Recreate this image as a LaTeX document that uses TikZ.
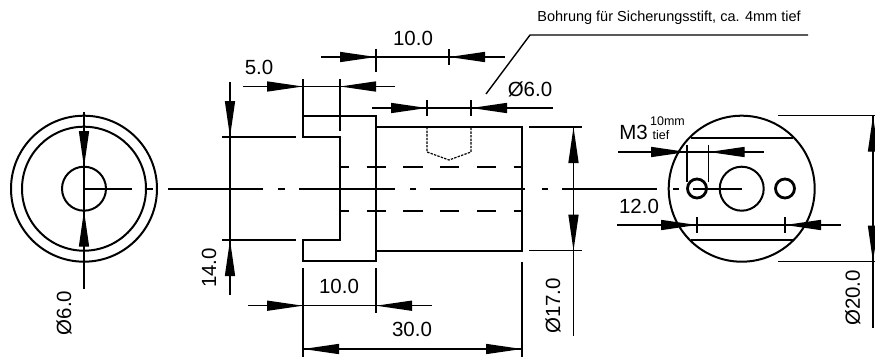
\documentclass[tikz,border=0pt]{standalone}
\usepackage{fontspec}
\setmainfont{Liberation Sans}
\usetikzlibrary{arrows.meta}

\tikzset{
    thinline/.style={line width=1.4pt},
    outline/.style={line width=2pt},
    axisline/.style={line width=1.8pt},
    hiddenline/.style={line width=1.8pt, dash pattern=on 19.3 off 17.4, dash phase=10},
    pinline/.style={line width=1.2pt, dash pattern=on 2.4 off 1.2},
    dimhead/.style={line width=1.4pt, -{Triangle[length=36pt,width=10pt]}},
    dimtext/.style={font=\fontsize{20.5}{24}\selectfont, inner sep=0pt},
}

\begin{document}
\begin{tikzpicture}[x=1pt,y=-1pt]
    \useasboundingbox (0,0) rectangle (875,361);

    \coordinate (cl) at (84,188.7);
    \coordinate (cr) at (741.7,188.7);
    \coordinate (hl) at (697,188.5);
    \coordinate (hr) at (785,188.5);

    % left view
    \draw[outline] (cl) circle (73);
    \draw[outline] (cl) circle (62);
    \draw[outline] (cl) circle (22);

    % right view
    \draw[outline] (cr) circle (73);
    \draw[outline] (cr) circle (22);
    \draw[line width=2.8pt] (hl) circle (9.5);
    \draw[line width=2.8pt] (hr) circle (9.5);
    \draw[outline] (691,137.7) -- (793,137.7);
    \draw[outline] (691,240) -- (793,240);

    % side view
    \draw[outline] (303,115.5) -- (376,115.5) -- (376,261) -- (303,261)
        -- (303,240) -- (340,240) -- (340,137) -- (303,137) -- cycle;
    \draw[outline] (376,127) -- (522,127) -- (522,250.7) -- (376,250.7);
    \draw[hiddenline] (340,166.7) -- (522,166.7);
    \draw[hiddenline] (340,210.7) -- (522,210.7);
    \draw[pinline] (427,127) -- (427,152) -- (449,160) -- (471,152) -- (471,127);

    % centre line
    \foreach \a/\b in {84/132,147/153,168/263,278/285,299/395,410/416,430/525,542/548,562/657,673/679,693/742} {
        \draw[axisline] (\a,188.7) -- (\b,188.7);
    }

    % dimension and extension lines
    \foreach \a/\b/\c/\d in {
        84/112/84/289, 230/82/230/295, 222/137/296/137, 222/240/296/240,
        243/86.5/395/86.5, 303/79/303/115, 340/79/340/131,
        321/57/505/57, 376/49/376/72, 449/49/449/65,
        372/108/553/108, 427/100/427/116, 471/100/471/116,
        248/305.7/432/305.7, 303/268/303/357, 376/268/376/313,
        303/349/522/349, 522/262/522/357,
        529/127/582/127, 529/250.7/582/250.7, 573.5/127/573.5/336,
        618/152/764/152, 687/145/687/181.7, 708.7/145/708.7/181.7,
        617/225/841/225, 697/217/697/233, 785/217/785/233,
        778/115.7/875/115.7, 778/261.7/875/261.7, 873/115.7/873/328} {
        \draw[thinline] (\a,\b) -- (\c,\d);
    }

    % arrow heads, base to tip
    \foreach \a/\b/\c/\d in {
        84/130/84/167, 84/247/84/210.7, 230/101/230/137, 230/276/230/240,
        267/86.5/303/86.5, 376/86.5/340/86.5,
        340/57/376/57, 486/57/449/57,
        391/108/427/108, 507/108/471/108,
        267/305.7/303/305.7, 412/305.7/376/305.7,
        339/349/303/349, 486/349/522/349,
        573.5/163/573.5/127, 573.5/214/573.5/250.7,
        651/152/687/152, 745/152/708.7/152,
        662/225/697/225, 822/225/785/225,
        873/152/873/115.7, 873/225/873/261.7} {
        \draw[dimhead] (\a,\b) -- (\c,\d);
    }

    % leader
    \draw[thinline] (486,94) -- (530,35) -- (808,35);

    % labels
    \node[dimtext] (t10top) at (413,38) {10.0};
    \node[dimtext] (t5) at (259,67) {5.0};
    \node[dimtext] (t6top) at (530,89) {Ø6.0};
    \node[dimtext, rotate=90] (t6left) at (64,313) {Ø6.0};
    \node[dimtext, rotate=90] (t14) at (209,268) {14.0};
    \node[dimtext] (t10low) at (339,286) {10.0};
    \node[dimtext] (t30) at (412,329) {30.0};
    \node[dimtext, rotate=90] (t17) at (553,306) {Ø17.0};
    \node[dimtext, rotate=90] (t20) at (852.7,298) {Ø20.0};
    \node[dimtext] (t12) at (639,206) {12.0};
    \node[dimtext] (tm3) at (633.5,132) {M3};
    \node[inner sep=0pt, font=\fontsize{12.5}{15}\selectfont] (tdepth) at (667.5,120.7) {10mm};
    \node[inner sep=0pt, font=\fontsize{12.5}{15}\selectfont] (ttief) at (661,135) {tief};
    \node[inner sep=0pt, font=\fontsize{14.5}{17}\selectfont] (tnote) at (669,18) {Bohrung für Sicherungsstift, ca. 4mm tief};
\end{tikzpicture}
\end{document}
